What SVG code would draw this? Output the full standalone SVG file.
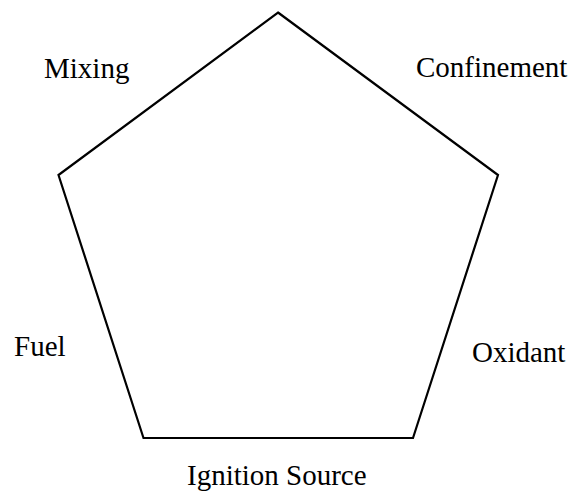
<svg xmlns="http://www.w3.org/2000/svg" width="570" height="496" viewBox="0 0 570 496">
<style>
.lbl{font-family:"Liberation Serif","Times New Roman",serif;font-size:29px;fill:#000}
.edge{fill:none;stroke:#000;stroke-width:2.2;stroke-linejoin:miter}
</style>
<rect width="570" height="496" fill="#fff"/>
<g id="connectors">
<polygon class="edge" points="278,12.5 498,175 413,438 143.5,438 58.5,175"/>
</g>
<g id="mixing"><text class="lbl" x="44" y="78">Mixing</text></g>
<g id="confinement"><text class="lbl" x="416" y="77">Confinement</text></g>
<g id="fuel"><text class="lbl" x="14" y="356">Fuel</text></g>
<g id="oxidant"><text class="lbl" x="472" y="362">Oxidant</text></g>
<g id="ignition"><text class="lbl" x="187" y="485">Ignition Source</text></g>
</svg>
